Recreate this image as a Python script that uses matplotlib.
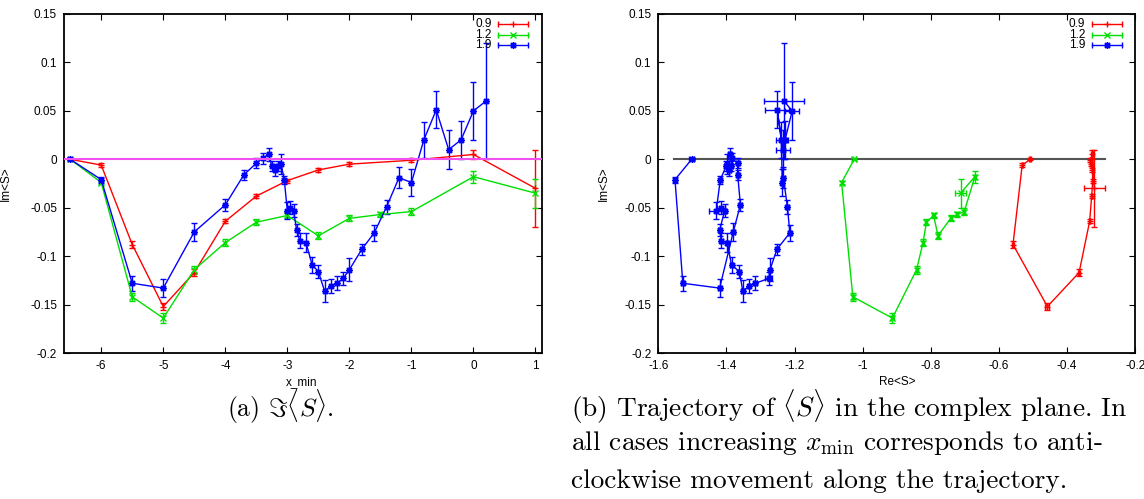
import matplotlib
matplotlib.use("Agg")
import matplotlib.pyplot as plt
from matplotlib.ticker import FuncFormatter, MultipleLocator

plt.rcParams['font.family'] = ['Liberation Sans', 'DejaVu Sans']
plt.rcParams['mathtext.fontset'] = 'cm'

# ---- run with parameter 0.9 ----
x_09 = [-6.5, -6, -5.5, -5, -4.5, -4, -3.5, -3, -2.5, -2, -1, 0, 1]
im_09 = [0.0, -0.006, -0.088, -0.152, -0.117, -0.064, -0.038, -0.022, -0.011,
         -0.005, -0.001, 0.005, -0.030]
dim_09 = [0.001, 0.002, 0.004, 0.004, 0.004, 0.002, 0.002, 0.002, 0.002,
          0.002, 0.002, 0.005, 0.040]
re_09 = [-0.508, -0.532, -0.559, -0.458, -0.365, -0.334, -0.328, -0.325,
         -0.326, -0.330, -0.332, -0.326, -0.320]
dre_09 = [0.003, 0.002, 0.003, 0.006, 0.004, 0.002, 0.002, 0.002, 0.002,
          0.002, 0.002, 0.003, 0.030]

# ---- run with parameter 1.2 ----
x_12 = [-6.5, -6, -5.5, -5, -4.5, -4, -3.5, -3, -2.5, -2, -1.5, -1, 0, 1]
im_12 = [0.0, -0.024, -0.142, -0.164, -0.114, -0.086, -0.065, -0.058, -0.079,
         -0.061, -0.057, -0.054, -0.018, -0.035]
dim_12 = [0.001, 0.002, 0.004, 0.005, 0.004, 0.004, 0.003, 0.003, 0.0035,
          0.003, 0.003, 0.004, 0.006, 0.015]
re_12 = [-1.025, -1.062, -1.029, -0.913, -0.842, -0.823, -0.813, -0.792,
         -0.779, -0.742, -0.723, -0.702, -0.671, -0.713]
dre_12 = [0.004, 0.003, 0.003, 0.004, 0.003, 0.003, 0.003, 0.004, 0.003,
          0.003, 0.003, 0.003, 0.003, 0.017]

# ---- run with parameter 1.9 ----
x_19 = [-6.5, -6, -5.5, -5, -4.5, -4, -3.7, -3.5, -3.4, -3.3, -3.25, -3.2,
        -3.15, -3.1, -3.05, -3.0, -2.95, -2.9, -2.85, -2.8, -2.7, -2.6, -2.5,
        -2.4, -2.3, -2.2, -2.1, -2.0, -1.8, -1.6, -1.4, -1.2, -1.0, -0.8,
        -0.6, -0.4, -0.2, 0.0, 0.2]
im_19 = [0.0, -0.021, -0.128, -0.133, -0.075, -0.047, -0.016, -0.004, 0.001,
         0.005, -0.007, -0.011, -0.007, -0.005, -0.021, -0.053, -0.050, -0.053,
         -0.073, -0.084, -0.086, -0.109, -0.116, -0.136, -0.131, -0.128,
         -0.123, -0.114, -0.093, -0.076, -0.049, -0.019, -0.024, 0.020, 0.051,
         0.010, 0.020, 0.050, 0.060]
dim_19 = [0.001, 0.003, 0.008, 0.009, 0.009, 0.006, 0.005, 0.005, 0.006,
          0.007, 0.005, 0.006, 0.005, 0.010, 0.004, 0.009, 0.007, 0.007,
          0.0065, 0.0077, 0.0095, 0.0086, 0.0065, 0.011, 0.007, 0.007, 0.007,
          0.012, 0.006, 0.0086, 0.007, 0.011, 0.014, 0.019, 0.019, 0.020,
          0.020, 0.030, 0.060]
re_19 = [-1.502, -1.551, -1.528, -1.420, -1.380, -1.359, -1.367, -1.367,
         -1.385, -1.390, -1.402, -1.392, -1.386, -1.398, -1.418, -1.430,
         -1.416, -1.405, -1.420, -1.415, -1.398, -1.385, -1.362, -1.352,
         -1.334, -1.315, -1.276, -1.272, -1.252, -1.214, -1.221, -1.233,
         -1.236, -1.239, -1.251, -1.234, -1.228, -1.207, -1.231]
dre_19 = [0.008, 0.004, 0.004, 0.004, 0.004, 0.004, 0.004, 0.004, 0.004,
          0.004, 0.004, 0.004, 0.004, 0.004, 0.004, 0.020, 0.012, 0.004,
          0.004, 0.004, 0.004, 0.004, 0.004, 0.004, 0.004, 0.004, 0.010,
          0.004, 0.004, 0.004, 0.004, 0.004, 0.004, 0.015, 0.035, 0.021,
          0.010, 0.021, 0.060]

labels = ['0.9', '1.2', '1.9']
colors = ['#ff0000', '#00e000', '#0000ff']
markers = ['+', 'x', (8, 2, 0)]

runs = [(x_09, re_09, im_09, dre_09, dim_09),
        (x_12, re_12, im_12, dre_12, dim_12),
        (x_19, re_19, im_19, dre_19, dim_19)]

TICK_FS = 8.5


def fmt(v, pos):
    return '%g' % round(v, 6)


def style_axes(ax):
    ax.tick_params(direction='in', top=True, right=True, length=4,
                   width=0.8, labelsize=TICK_FS, pad=5)
    for s in ax.spines.values():
        s.set_linewidth(1.3)
    ax.xaxis.set_major_formatter(FuncFormatter(fmt))
    ax.yaxis.set_major_formatter(FuncFormatter(fmt))
    ax.set_ylim(-0.2, 0.15)
    ax.yaxis.set_major_locator(MultipleLocator(0.05))


def draw_key(ax):
    # gnuplot-style key: label on the left, sample with end caps on the right
    x0, x1 = 0.9085, 0.972
    for i in range(3):
        y = 0.970 - i * 0.0305
        ax.text(0.895, y, labels[i], transform=ax.transAxes, ha='right',
                va='center', fontsize=TICK_FS)
        ax.plot([x0, x1], [y, y], transform=ax.transAxes, color=colors[i],
                lw=1, clip_on=False)
        ax.plot([x0, x1], [y, y], transform=ax.transAxes, color=colors[i],
                ls='none', marker='|', ms=5, mew=1, clip_on=False)
        ax.plot([(x0 + x1) / 2], [y], transform=ax.transAxes,
                color=colors[i], marker=markers[i], ms=5, mew=1,
                clip_on=False)


fig = plt.figure(figsize=(11.44, 4.99), dpi=100)
W, H = 1144.0, 499.0
ax1 = fig.add_axes([64 / W, 1 - 353 / H, (541.7 - 64) / W, 339 / H])
ax2 = fig.add_axes([658.3 / W, 1 - 353 / H, (1135.3 - 658.3) / W, 339 / H])

# (a) imaginary part against x_min
for i, (xs, re, im, dre, dim) in enumerate(runs):
    ax1.errorbar(xs, im, yerr=dim, color=colors[i], marker=markers[i],
                 ms=5, mew=1, lw=1, elinewidth=1, capsize=2.5, capthick=1)
ax1.axhline(0, color='#f050f0', lw=1.5, zorder=5)
ax1.set_xlim(-6.6, 1.1)
ax1.xaxis.set_major_locator(MultipleLocator(1))
style_axes(ax1)
ax1.set_xlabel('x_min', fontsize=TICK_FS)
ax1.set_ylabel('Im<S>', fontsize=TICK_FS)
ax1.xaxis.set_label_coords(0.498, -0.068)
ax1.yaxis.set_label_coords(-0.109, 0.5)
draw_key(ax1)

# (b) trajectory in the complex plane
for i, (xs, re, im, dre, dim) in enumerate(runs):
    ax2.errorbar(re, im, xerr=dre, yerr=dim, color=colors[i],
                 marker=markers[i], ms=5, mew=1, lw=1, elinewidth=1,
                 capsize=2.5, capthick=1)
lo = min(min(r - d for r, d in zip(run[1], run[3])) for run in runs)
hi = max(max(r + d for r, d in zip(run[1], run[3])) for run in runs)
ax2.plot([lo, hi], [0, 0], color='#555555', lw=1.5, zorder=1)
ax2.set_xlim(-1.6, -0.2)
ax2.xaxis.set_major_locator(MultipleLocator(0.2))
style_axes(ax2)
ax2.set_xlabel('Re<S>', fontsize=TICK_FS)
ax2.set_ylabel('Im<S>', fontsize=TICK_FS)
ax2.xaxis.set_label_coords(0.5, -0.068)
ax2.yaxis.set_label_coords(-0.101, 0.5)
draw_key(ax2)

# captions
cap = dict(family='cmr10', fontsize=19.7, va='center')
fig.text(280 / W, 1 - 407 / H, r'(a) $\Im\langle S\rangle$.', ha='center',
         **dict(cap, fontsize=18.5))
fig.text(571 / W, 1 - 407 / H,
         r'(b) Trajectory of $\langle S\rangle$ in the complex plane. In',
         ha='left', **cap)
fig.text(571 / W, 1 - 443 / H,
         r'all cases increasing $x_{\min}$ corresponds to anti-',
         ha='left', **cap)
fig.text(571 / W, 1 - 481 / H,
         'clockwise movement along the trajectory.', ha='left', **cap)

fig.savefig('out.png', dpi=100)
